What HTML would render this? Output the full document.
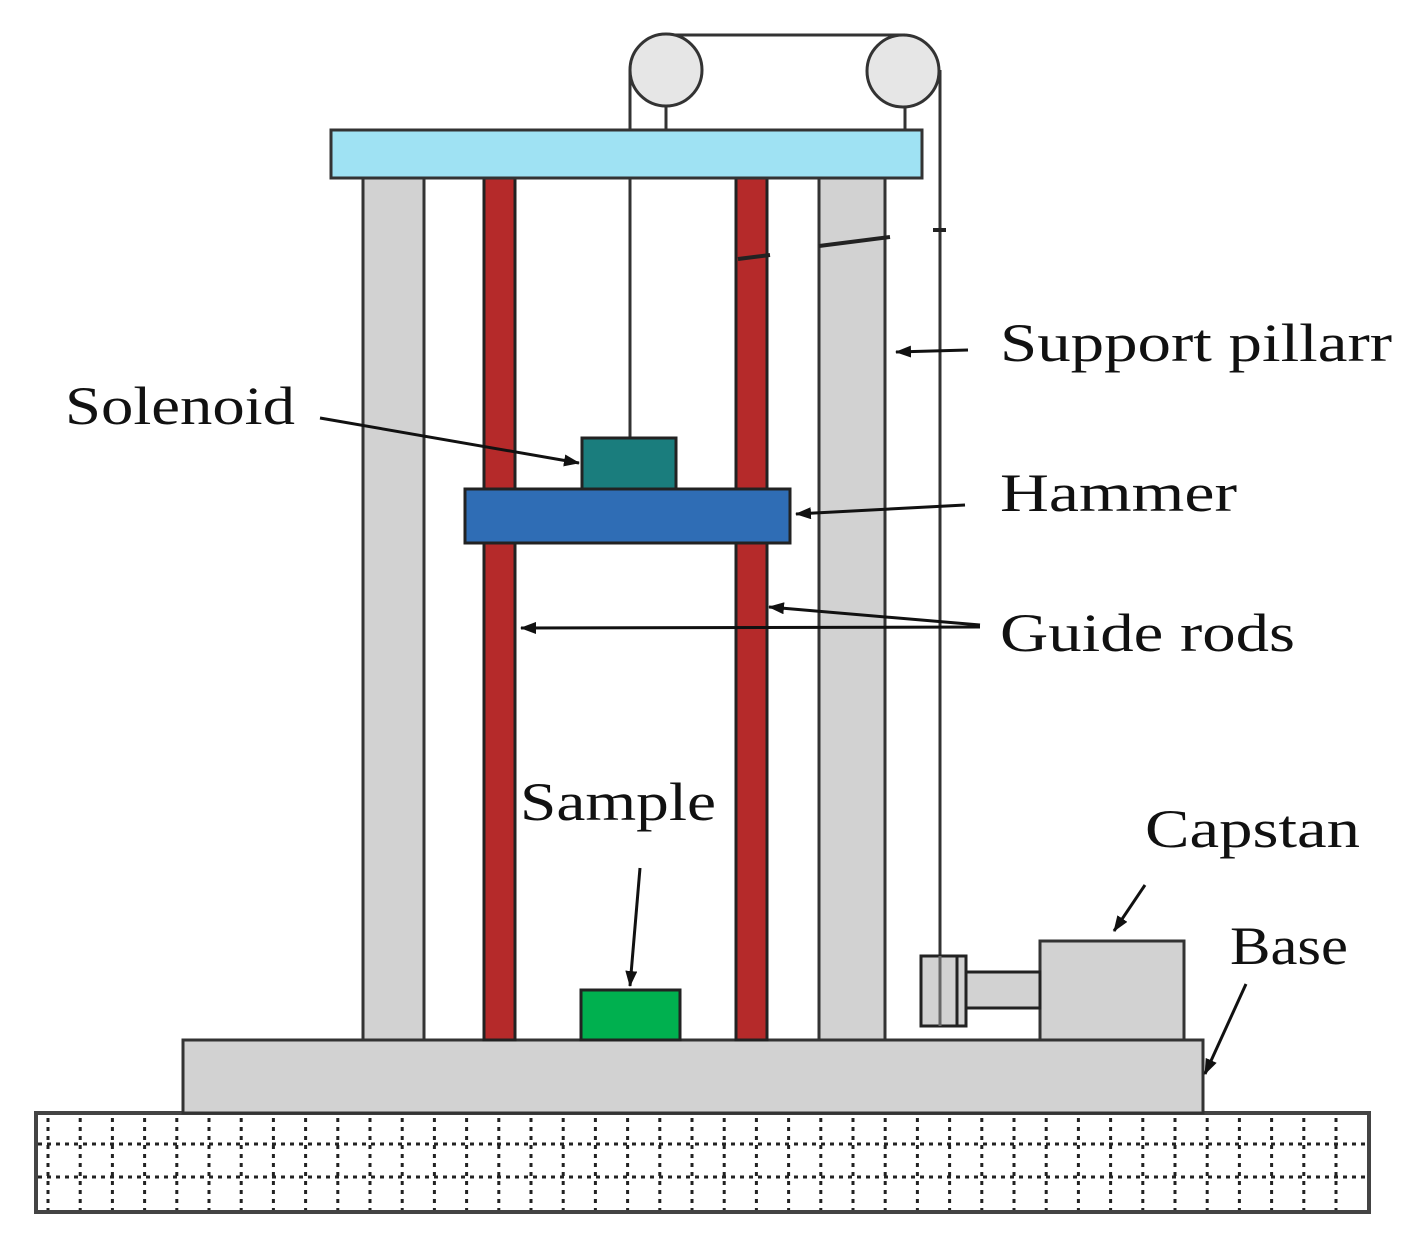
<!DOCTYPE html>
<html><head><meta charset="utf-8"><style>body{margin:0;background:#fff}svg{display:block}</style></head>
<body>
<svg width="1419" height="1248" viewBox="0 0 1419 1248" xmlns="http://www.w3.org/2000/svg">
<defs>
<marker id="a" markerWidth="16" markerHeight="12" refX="15" refY="6" orient="auto" markerUnits="userSpaceOnUse"><path d="M0,0 L16,6 L0,12 z" fill="#111"/></marker>
</defs>
<rect x="36" y="1113" width="1333" height="99" fill="#fff" stroke="#444" stroke-width="4"/>
<g stroke="#222" stroke-width="3" stroke-dasharray="4,5">
<line x1="38" y1="1144" x2="1367" y2="1144"/>
<line x1="38" y1="1177" x2="1367" y2="1177"/>
</g>
<g stroke="#222" stroke-width="3" stroke-dasharray="4,5" id="vg"></g>
<script>
var g=document.getElementById('vg');for(var x=48;x<1368;x+=32.2){var l=document.createElementNS('http://www.w3.org/2000/svg','line');l.setAttribute('x1',x);l.setAttribute('x2',x);l.setAttribute('y1',1118);l.setAttribute('y2',1210);g.appendChild(l);}
</script>
<rect x="183" y="1040" width="1020" height="73" fill="#d2d2d2" stroke="#333" stroke-width="3"/>
<rect x="363" y="178" width="61" height="862" fill="#d2d2d2" stroke="#333" stroke-width="3"/>
<rect x="819" y="178" width="66" height="862" fill="#d2d2d2" stroke="#333" stroke-width="3"/>
<rect x="484" y="178" width="31" height="862" fill="#b52a2a" stroke="#222" stroke-width="3"/>
<rect x="736" y="178" width="31" height="862" fill="#b52a2a" stroke="#222" stroke-width="3"/>
<line x1="666" y1="100" x2="666" y2="130" stroke="#333" stroke-width="3"/>
<line x1="905" y1="100" x2="905" y2="130" stroke="#333" stroke-width="3"/>
<line x1="666" y1="35" x2="905" y2="35" stroke="#333" stroke-width="3"/>
<line x1="630" y1="70" x2="630" y2="438" stroke="#333" stroke-width="3"/>
<line x1="940" y1="70" x2="940" y2="960" stroke="#333" stroke-width="3"/>
<circle cx="666" cy="70" r="36" fill="#e6e6e6" stroke="#333" stroke-width="3"/>
<circle cx="903" cy="71" r="36" fill="#e6e6e6" stroke="#333" stroke-width="3"/>
<rect x="331" y="130" width="591" height="48" fill="#9fe2f3" stroke="#333" stroke-width="3"/>
<g stroke="#222" stroke-width="4">
<line x1="738" y1="259" x2="770" y2="255"/>
<line x1="819" y1="246" x2="890" y2="237"/>
<line x1="933" y1="230" x2="946" y2="230"/>
</g>
<rect x="582" y="438" width="94" height="52" fill="#1a7d7d" stroke="#222" stroke-width="3"/>
<rect x="465" y="489" width="325" height="54" fill="#2f6db5" stroke="#222" stroke-width="3"/>
<rect x="581" y="990" width="99" height="50" fill="#00b04f" stroke="#222" stroke-width="3"/>
<rect x="1040" y="941" width="144" height="99" fill="#d2d2d2" stroke="#333" stroke-width="3"/>
<rect x="966" y="972" width="74" height="36" fill="#d2d2d2" stroke="#222" stroke-width="3"/>
<rect x="921" y="956" width="45" height="70" fill="#d2d2d2" stroke="#222" stroke-width="3"/>
<line x1="957" y1="956" x2="957" y2="1026" stroke="#222" stroke-width="3"/>
<line x1="940" y1="956" x2="940" y2="1026" stroke="#666" stroke-width="3"/>
<g stroke="#111" stroke-width="3" fill="none" marker-end="url(#a)">
<line x1="968" y1="350" x2="896" y2="352"/>
<line x1="320" y1="418" x2="579" y2="463"/>
<line x1="965" y1="505" x2="796" y2="514"/>
<line x1="980" y1="625" x2="769" y2="607"/>
<line x1="980" y1="627" x2="521" y2="628"/>
<line x1="640" y1="868" x2="630" y2="986"/>
<line x1="1145" y1="885" x2="1114" y2="931"/>
<line x1="1246" y1="984" x2="1205" y2="1074"/>
</g>
<g font-family="Liberation Serif, serif" font-size="54" fill="#111" lengthAdjust="spacingAndGlyphs">
<text x="1000" y="361" textLength="392" lengthAdjust="spacingAndGlyphs">Support pillarr</text>
<text x="65" y="424" textLength="230" lengthAdjust="spacingAndGlyphs">Solenoid</text>
<text x="1000" y="511" textLength="237" lengthAdjust="spacingAndGlyphs">Hammer</text>
<text x="1000" y="651" textLength="295" lengthAdjust="spacingAndGlyphs">Guide rods</text>
<text x="520" y="820" textLength="196" lengthAdjust="spacingAndGlyphs">Sample</text>
<text x="1145" y="847" textLength="215" lengthAdjust="spacingAndGlyphs">Capstan</text>
<text x="1230" y="964" textLength="118" lengthAdjust="spacingAndGlyphs">Base</text>
</g>
</svg>
</body></html>
